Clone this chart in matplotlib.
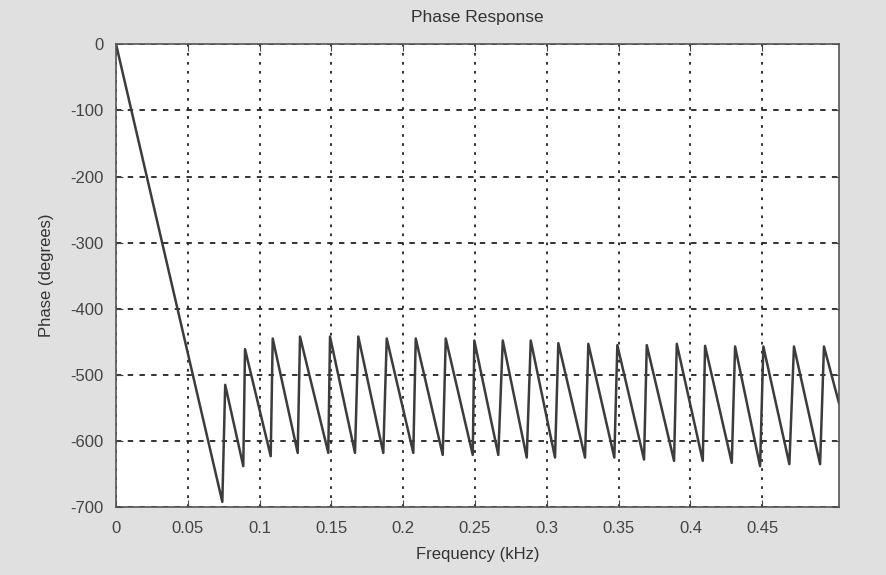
import matplotlib.pyplot as plt

# Vertices of the phase curve (kHz, degrees)
freq_khz = [0.0, 0.0740, 0.0760,
            0.0886, 0.0898, 0.1077, 0.1091, 0.1265, 0.1281, 0.1478, 0.1490,
            0.1664, 0.1687, 0.1861, 0.1885, 0.2070, 0.2087, 0.2275, 0.2296,
            0.2484, 0.2495, 0.2662, 0.2693, 0.2860, 0.2888, 0.3057, 0.3080,
            0.3266, 0.3289, 0.3470, 0.3491, 0.3677, 0.3696, 0.3886, 0.3905,
            0.4086, 0.4102, 0.4288, 0.4311, 0.4485, 0.4508, 0.4689, 0.4721,
            0.4903, 0.4930, 0.5035]
phase_deg = [0, -692, -515,
             -638, -461, -623, -445, -618, -442, -618, -442,
             -618, -442, -618, -445, -618, -445, -621, -445,
             -621, -448, -621, -448, -625, -448, -625, -452,
             -625, -453, -625, -455, -628, -455, -630, -453,
             -630, -456, -633, -457, -638, -457, -635, -457,
             -635, -457, -543]

x_ticks = [0, 0.05, 0.1, 0.15, 0.2, 0.25, 0.3, 0.35, 0.4, 0.45]
x_labels = ['0', '0.05', '0.1', '0.15', '0.2', '0.25', '0.3', '0.35', '0.4', '0.45']
y_ticks = [-700, -600, -500, -400, -300, -200, -100, 0]

plt.rcParams['font.family'] = ['Liberation Sans', 'DejaVu Sans']
plt.rcParams['axes.unicode_minus'] = False

fig = plt.figure(figsize=(8.86, 5.75), dpi=100, facecolor='#e0e0e0')
ax = fig.add_axes([0.131, 0.118, 0.816, 0.805])
ax.set_facecolor('white')

ax.plot(freq_khz, phase_deg, color='#3c3c3c', linewidth=1.8)

ax.set_xlim(0, 0.5035)
ax.set_ylim(-700, 0)
ax.set_xticks(x_ticks)
ax.set_xticklabels(x_labels)
ax.set_yticks(y_ticks)

ax.xaxis.grid(True, color='#222222', linestyle=(0, (1.5, 3.5)), linewidth=1.3)
ax.yaxis.grid(True, color='#222222', linestyle=(0, (3, 3.5)), linewidth=1.3)

ax.tick_params(direction='in', top=True, right=True, length=5,
               colors='#444444', labelsize=12, labelcolor='#444444')
ax.tick_params(axis='x', pad=10)
ax.tick_params(axis='y', pad=9)
for s in ax.spines.values():
    s.set_color('#555555')
    s.set_linewidth(1.2)

ax.set_title('Phase Response', fontsize=12.5, color='#333333', pad=16)
ax.set_xlabel('Frequency (kHz)', fontsize=12, color='#333333', labelpad=8)
ax.set_ylabel('Phase (degrees)', fontsize=12, color='#333333', labelpad=12)

fig.savefig('out.png', dpi=100, facecolor=fig.get_facecolor())
